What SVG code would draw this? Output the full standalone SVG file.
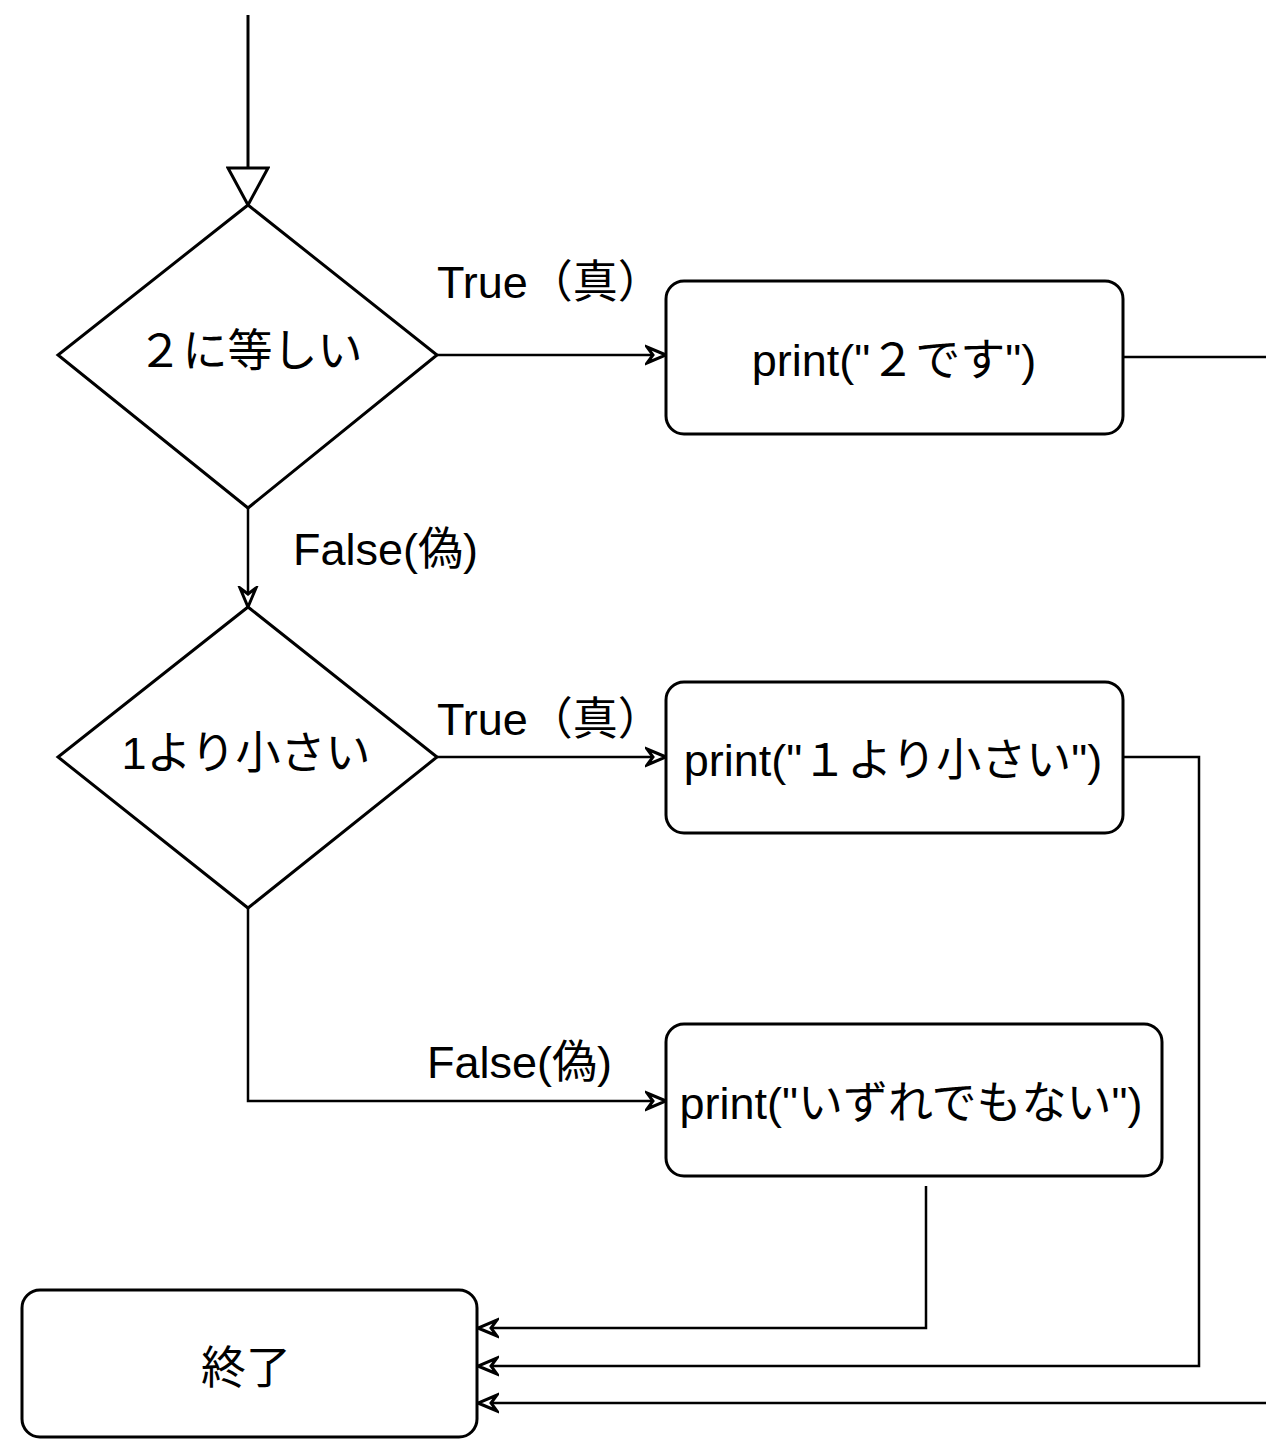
<svg xmlns="http://www.w3.org/2000/svg" width="1266" height="1439" viewBox="0 0 1266 1439">
<defs>
<style>
.node{fill:#fff;stroke:#000;stroke-width:3}
.edge{fill:none;stroke:#000;stroke-width:2.5}
text{font-family:"Liberation Sans","Noto Sans CJK JP",sans-serif;font-size:45px;fill:#000}
.c{text-anchor:middle}
</style>
<marker id="arr" viewBox="-3 -11 24 22" refX="18" refY="0" markerWidth="24" markerHeight="22" markerUnits="userSpaceOnUse" orient="auto">
<path d="M18,0 L-1,-8 L5,0 L-1,8 Z" fill="#fff" stroke="#000" stroke-width="3" stroke-linejoin="miter"/>
</marker>
<marker id="big" viewBox="-2 -22 42 44" refX="37" refY="0" markerWidth="42" markerHeight="44" markerUnits="userSpaceOnUse" orient="auto">
<path d="M37,0 L0,-20 L0,20 Z" fill="#fff" stroke="#000" stroke-width="3"/>
</marker>
</defs>
<rect width="1266" height="1439" fill="#fff"/>
<g id="connectors">
<path class="edge" d="M248,15 L248,205" marker-end="url(#big)" style="stroke-width:3"/>
<path class="edge" d="M437,355 L666,355" marker-end="url(#arr)"/>
<path class="edge" d="M1123,357 L1270,357"/>
<path class="edge" d="M248,508 L248,607" marker-end="url(#arr)"/>
<path class="edge" d="M437,757 L666,757" marker-end="url(#arr)"/>
<path class="edge" d="M1123,757 L1199,757 L1199,1366 L478,1366" marker-end="url(#arr)"/>
<path class="edge" d="M248,908 L248,1101 L666,1101" marker-end="url(#arr)"/>
<path class="edge" d="M926,1186 L926,1328 L478,1328" marker-end="url(#arr)"/>
<path class="edge" d="M1270,1403 L478,1403" marker-end="url(#arr)"/>
<text x="437" y="298">True（真）</text>
<text x="293" y="565">False(偽)</text>
<text x="437" y="735">True（真）</text>
<text x="427" y="1078">False(偽)</text>
</g>
<g id="cond1">
<path class="node" d="M248,205 L437,355 L248,508 L58,355 Z"/>
<text class="c" x="250" y="367">２に等しい</text>
</g>
<g id="print2">
<rect class="node" x="666" y="281" width="457" height="153" rx="18"/>
<text class="c" x="894" y="376">print("２です")</text>
</g>
<g id="cond2">
<path class="node" d="M248,607 L437,757 L248,908 L58,757 Z"/>
<text class="c" x="246" y="769">1より小さい</text>
</g>
<g id="print1">
<rect class="node" x="666" y="682" width="457" height="151" rx="18"/>
<text class="c" x="893" y="776">print("１より小さい")</text>
</g>
<g id="printElse">
<rect class="node" x="666" y="1024" width="496" height="152" rx="18"/>
<text class="c" x="911" y="1119">print("いずれでもない")</text>
</g>
<g id="end">
<rect class="node" x="22" y="1290" width="455" height="147" rx="18"/>
<text class="c" x="246" y="1384">終了</text>
</g>
</svg>
